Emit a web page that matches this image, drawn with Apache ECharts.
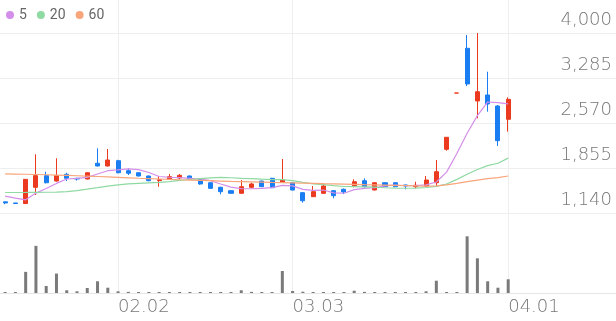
<!DOCTYPE html>
<html><head><meta charset="utf-8">
<script src="https://cdn.jsdelivr.net/npm/echarts@6/dist/echarts.min.js"></script>
<style>html,body{margin:0;padding:0;background:#fff}#c{width:616px;height:321px}</style>
</head><body><div id="c"></div>
<script>
const dates = ['01.16','01.19','01.20','01.21','01.22','01.23','01.26','01.27','01.28','01.29','01.30',
'02.02','02.03','02.04','02.05','02.06','02.09','02.10','02.11','02.12','02.13','02.19','02.20','02.23','02.24','02.25','02.26','02.27',
'03.03','03.04','03.05','03.06','03.09','03.10','03.11','03.12','03.13','03.16','03.17','03.18','03.19','03.20','03.23','03.24','03.25','03.26','03.27','03.30','03.31',
'04.01'];
// [open, close, low, high]
const ohlc = [
[1318,1300,1280,1318],[1300,1290,1285,1300],[1290,1675,1285,1680],[1548,1733,1426,2073],[1733,1621,1610,1796],
[1648,1733,1640,2009],[1755,1691,1648,1780],[1691,1680,1655,1700],[1680,1780,1675,1785],[1930,1887,1880,2168],
[1887,1982,1880,2157],[1971,1780,1770,1985],[1812,1771,1744,1850],[1780,1728,1720,1785],[1728,1653,1645,1735],
[1655,1670,1558,1728],[1675,1717,1664,1760],[1696,1739,1675,1760],[1728,1675,1670,1735],[1675,1601,1590,1680],
[1621,1532,1525,1625],[1548,1479,1437,1558],[1495,1453,1450,1498],[1453,1558,1450,1664],[1548,1601,1532,1621],
[1648,1558,1553,1653],[1691,1542,1537,1700],[1628,1664,1625,1998],[1621,1505,1500,1625],[1463,1335,1304,1468],
[1399,1479,1395,1569],[1453,1569,1450,1612],[1495,1415,1373,1500],[1517,1474,1440,1530],[1574,1637,1548,1675],
[1653,1558,1548,1691],[1505,1621,1500,1630],[1621,1558,1555,1625],[1621,1558,1555,1625],[1585,1569,1516,1590],
[1558,1580,1532,1637],[1569,1664,1553,1728],[1621,1796,1558,1982],[2152,2343,2130,2343],[3046,3046,3046,3046],
[3757,3190,3158,3968],[2920,3067,2645,4000],[3015,2872,2750,3385],[2840,2289,2205,2856],[2629,2946,2432,2978]
];
const volumes = [35000,35000,740000,1650000,245000,680000,95000,60000,175000,410000,
185000,60000,40000,35000,35000,35000,35000,35000,35000,35000,
35000,35000,35000,95000,40000,35000,35000,770000,70000,45000,
35000,35000,35000,35000,80000,40000,35000,35000,35000,35000,
35000,60000,430000,35000,35000,1985000,1215000,410000,185000,480000];
const ma5 = [1407,1377,1350,1456,1530,1610,1680,1690,1705,1760,
1812,1825,1840,1828,1783,1720,1708,1701,1691,1680,
1653,1600,1550,1527,1525,1530,1542,1580,1570,1515,
1498,1505,1461,1454,1512,1530,1541,1570,1585,1573,
1577,1586,1633,1790,2086,2408,2688,2904,2893,2873];
const ma20 = [1466,1466,1467,1469,1470,1472,1480,1495,1518,1542,
1568,1588,1603,1612,1620,1627,1640,1658,1672,1685,
1697,1706,1700,1690,1686,1677,1669,1669,1655,1627,
1602,1591,1574,1561,1560,1555,1550,1541,1535,1533,
1536,1545,1562,1601,1674,1755,1831,1892,1931,2012];
const ma60 = [1762,1759,1756,1752,1748,1743,1738,1732,1726,1720,
1713,1706,1699,1692,1686,1680,1674,1668,1663,1658,
1653,1648,1643,1639,1635,1631,1627,1624,1620,1616,
1612,1607,1603,1599,1595,1590,1586,1582,1578,1574,
1570,1568,1572,1588,1612,1638,1662,1686,1702,1728];
const yTicks = [1140,1855,2570,3285,4000];
const labelDates = ['02.02','03.03','04.01'];

const UP = '#eb3a1f', DOWN = '#1a7ef2';
const GRIDC = '#eeeeee';
const FONT = 'DejaVu Sans';
const showIdx = (i) => labelDates.indexOf(dates[i]) >= 0;

const chart = echarts.init(document.getElementById('c'), null, {renderer:'canvas'});
chart.setOption({
  animation: false,
  legend: {
    data: ['5','20','60'], left: 0, top: 3, padding: [5,5,5,6], icon: 'circle',
    itemWidth: 8, itemHeight: 8, itemGap: 10,
    textStyle: {color:'#666', fontSize:14, fontFamily:'Roboto'}
  },
  grid: [
    {left:0, right:0, top:33, height:180},
    {left:0, right:0, top:235, height:58},
    {left:5.133, right:5.133, top:0, height:293}
  ],
  xAxis: [
    {type:'category', gridIndex:0, data:dates, max:59, boundaryGap:true,
     axisLine:{show:false}, axisTick:{show:false}, axisLabel:{show:false}, splitLine:{show:false}},
    {type:'category', gridIndex:1, data:dates, max:59, boundaryGap:true,
     axisLine:{show:true, lineStyle:{color:'#e6e6e6'}}, axisTick:{show:false}, axisLabel:{show:false}, splitLine:{show:false}},
    {type:'category', gridIndex:2, data:dates, max:59, boundaryGap:false,
     axisLine:{show:false}, axisTick:{show:false},
     axisLabel:{show:true, interval:(i)=>showIdx(i), align:'left', color:'#777', fontSize:18, fontFamily:FONT, fontWeight:200, margin:5},
     splitLine:{show:true, interval:(i)=>showIdx(i), lineStyle:{color:GRIDC, width:1}}}
  ],
  yAxis: [
    {type:'value', gridIndex:0, position:'right', min:yTicks[0], max:yTicks[yTicks.length-1], interval:yTicks[1]-yTicks[0],
     axisLine:{show:false}, axisTick:{show:false},
     axisLabel:{inside:true, margin:4, color:'#777', fontSize:18, fontFamily:FONT, fontWeight:200,
       verticalAlign:'bottom', lineHeight:18, padding:[0,0,4,0],
       formatter:(v)=>Number(v).toLocaleString('en-US')},
     splitLine:{show:true, lineStyle:{color:GRIDC, width:1}}},
    {type:'value', gridIndex:1, min:0, max:2030000, show:false},
    {type:'value', gridIndex:2, min:0, max:1, show:false}
  ],
  series: [
    {type:'candlestick', name:'price', xAxisIndex:0, yAxisIndex:0, data:ohlc, barWidth:4.6,
     itemStyle:{color:UP, color0:DOWN, borderColor:UP, borderColor0:DOWN, borderColorDoji:UP, borderWidth:1}},
    {type:'line', name:'5', xAxisIndex:0, yAxisIndex:0, data:ma5, symbol:'none', color:'#d38ee9', lineStyle:{width:1.2}},
    {type:'line', name:'20', xAxisIndex:0, yAxisIndex:0, data:ma20, symbol:'none', color:'#8fd9a2', lineStyle:{width:1.2}},
    {type:'line', name:'60', xAxisIndex:0, yAxisIndex:0, data:ma60, symbol:'none', color:'#f8a57c', lineStyle:{width:1.2}},
    {type:'bar', name:'volume', xAxisIndex:1, yAxisIndex:1, data:volumes, barWidth:3, itemStyle:{color:'#7a7a7a'}}
  ]
});
</script></body></html>
